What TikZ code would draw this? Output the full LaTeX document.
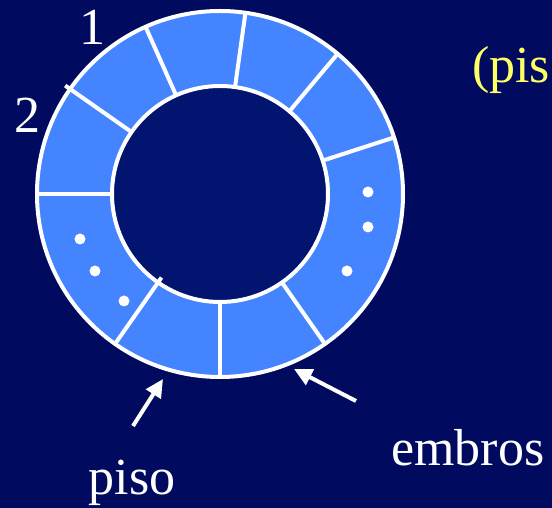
\documentclass[tikz,border=0pt]{standalone}
\usepackage{fontspec}
\setmainfont{Liberation Serif}
\usetikzlibrary{arrows.meta}
\definecolor{navy}{RGB}{0,10,94}
\definecolor{hole}{RGB}{0,20,112}
\definecolor{ringblue}{RGB}{68,132,255}
\definecolor{noteyellow}{RGB}{255,255,102}
\begin{document}
\begin{tikzpicture}[x=1pt,y=1pt,every node/.style={inner sep=0pt,
    text=white,font=\fontsize{52}{60}\selectfont},
    divider/.style={draw=white,line width=4pt},
    pointer/.style={draw=white,line width=4pt,
    -{Triangle[length=18pt,width=17pt]}}]
    \fill[navy] (0,0) rectangle (552,508);
    \useasboundingbox (0,0) rectangle (552,508);
    \coordinate (c) at (220,314);
    % ring of slots
    \filldraw[fill=ringblue,draw=white,line width=4pt] (c) circle (183pt);
    \filldraw[fill=hole,draw=white,line width=4pt] (c) circle (108pt);
    \foreach \a/\ri/\ro in {18/108/183,50/108/183,82/108/183,
        114/108/183,145/108/189,180/108/183,235/102/183,
        270/106/183,305/108/183}
        \draw[divider,shift={(c)}] (\a:\ri pt) -- (\a:\ro pt);
    \foreach \p in {(80,269),(95,237),(124,207),
        (368,316),(368,281),(347,237)}
        \fill[white] \p circle (5.5pt);
    % labels
    \node[anchor=base] (one) at (92,463) {1};
    \node[anchor=base] (two) at (28,375) {2};
    \node[anchor=base west,text=noteyellow] (note) at (472,425) {(pis};
    \node[anchor=base] (floor) at (132,13) {piso};
    \node[anchor=base west] (members) at (391,42) {embros};
    % pointers
    \coordinate (floortail) at (133,82);
    \coordinate (floortip) at (163,129);
    \coordinate (memberstail) at (356,107);
    \coordinate (memberstip) at (294,139);
    \draw[pointer] (floortail) -- (floortip);
    \draw[pointer] (memberstail) -- (memberstip);
\end{tikzpicture}
\end{document}
